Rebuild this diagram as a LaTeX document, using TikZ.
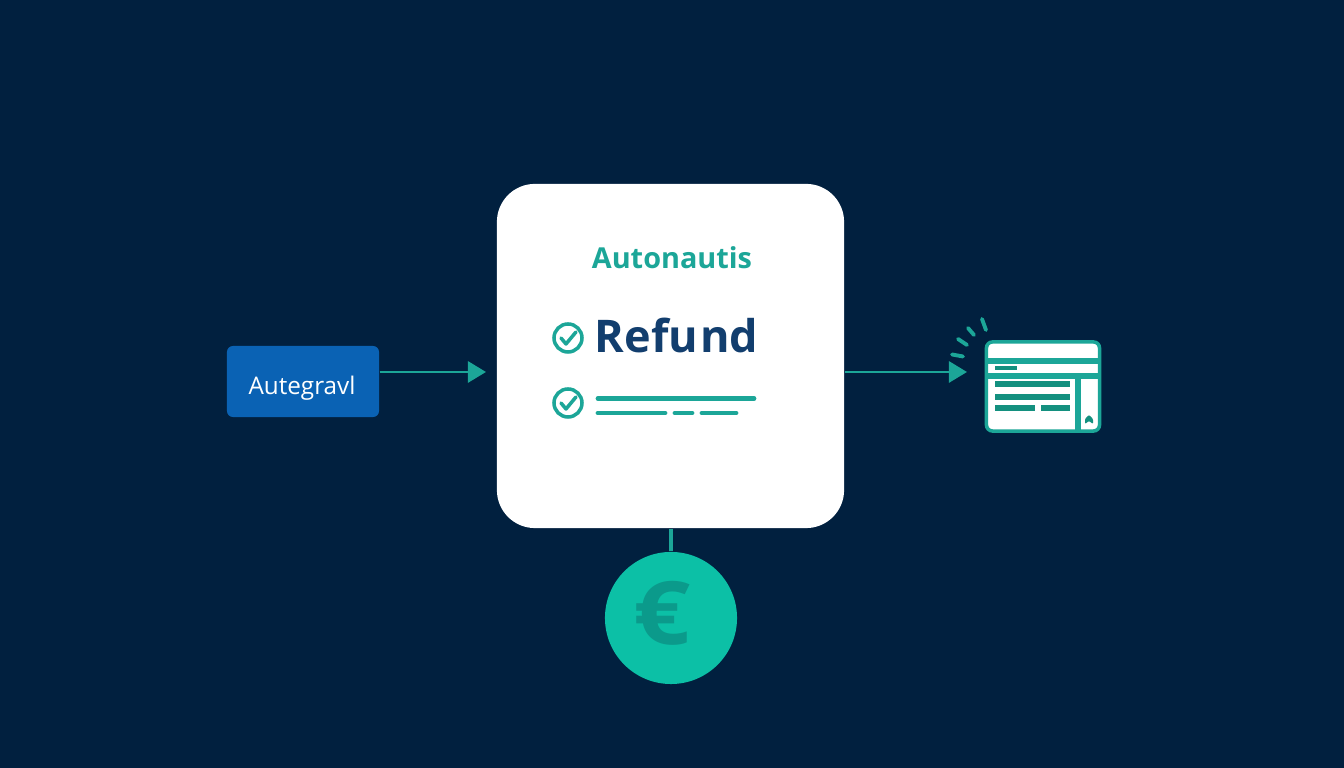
\documentclass[tikz,border=0pt]{standalone}
\usepackage{fontspec}
\setmainfont{Open Sans}
\usetikzlibrary{arrows.meta}
\definecolor{nightblue}{HTML}{01203F}
\definecolor{boxblue}{HTML}{0A62B4}
\definecolor{tealline}{HTML}{1CA698}
\definecolor{tealdark}{HTML}{14907F}
\definecolor{tealcoin}{HTML}{0CC0A6}
\definecolor{eurotext}{HTML}{0B9A8B}
\definecolor{refundblue}{HTML}{123E6E}

\begin{document}
\begin{tikzpicture}[x=0.01cm,y=-0.01cm,
  card/.style={rectangle,fill=white,minimum width=3.47cm,minimum height=3.44cm,rounded corners=0.38cm},
  inbox/.style={rectangle,fill=boxblue,minimum width=1.52cm,minimum height=0.71cm,rounded corners=0.06cm},
  coin/.style={circle,fill=tealcoin,minimum size=1.32cm,inner sep=0pt},
  txt/.style={anchor=base,inner sep=0pt},
  ring/.style={circle,draw=tealline,line width=1pt,minimum size=0.28cm,inner sep=0pt},
  tick/.style={draw=tealline,line width=1pt,line cap=round,line join=round},
  flow/.style={draw=tealline,line width=0.8pt,-{Triangle[length=0.18cm,width=0.21cm]}},
  bar/.style={draw=tealline,line width=1.35pt,line cap=round},
  formbar/.style={fill=tealdark}]

\fill[nightblue] (0,0) rectangle (1344,768);

\node [card] (card) at (670.5,356) {};
\node [inbox] (autegravl) at (303,381.5) {};
\node [coin] (euro) at (671,618) {};
\node [txt,text=white,font=\fontsize{6.9}{8}\selectfont] (autegravltext) at (302,395) {Autegravl};
\node [txt,text=eurotext,font=\fontsize{25}{30}\selectfont\bfseries,xscale=1.14] (eurotext) at (662.5,645) {€};
\node [txt,text=tealline,font=\fontsize{8.2}{10}\selectfont\bfseries] (autonautis) at (672,269) {Autonautis};
\node [txt,text=refundblue,font=\fontsize{12.8}{15}\selectfont\bfseries] (refund) at (676.5,353) {Refu\kern0.6pt nd};

\coordinate (tipin) at (486,372);
\coordinate (tipout) at (967,372);
\draw[flow] (tipin -| autegravl.east) -- (tipin);
\draw[flow] (tipout -| card.east) -- (tipout);
\draw[tealline,line width=0.9pt] (euro.north |- card.south) -- (euro.north);

% checks and lines
\foreach \n/\y in {one/338,two/403}{
 \node [ring] (check\n) at (568,\y) {};
 \draw[tick] (561,\y) -- (566,\y+6) -- (576,\y-6);
}
\draw[bar] (598,398.5) -- (754,398.5);
\foreach \a/\b in {598/665,675/692,702/736}{
 \draw[bar] (\a,413) -- (\b,413);
}

% form icon
\node [rectangle,fill=white,draw=tealline,line width=1pt,rounded corners=0.06cm,minimum width=1.13cm,minimum height=0.89cm,inner sep=0pt] (form) at (1043,386.5) {};
\fill[tealline] (986,358.5) rectangle (1100,364);
\fill[tealline] (986,373.5) rectangle (1100,379);
\fill[tealline] (1075,379) rectangle (1080.5,431);
\foreach \a/\b/\c/\d in {995/1017/366.5/370.5,995/1070/381.5/387,995/1070/394.5/400,995/1035/405.5/411,1041/1070/405.5/411}{
 \fill[formbar] (\a,\c) rectangle (\b,\d);
}
\fill[tealdark,rounded corners=0.01cm] (1085,424) -- (1085,419) -- (1089,415) -- (1093,419) -- (1093,424) -- (1089,421) -- cycle;

% dashes over the form
\foreach \xa/\ya/\xb/\yb in {952/354.5/963/356.5,958/339/967/345,968/328/974/335,982/319/986/330}{
 \draw[tealline,line width=1.1pt,line cap=round] (\xa,\ya) -- (\xb,\yb);
}
\end{tikzpicture}
\end{document}
